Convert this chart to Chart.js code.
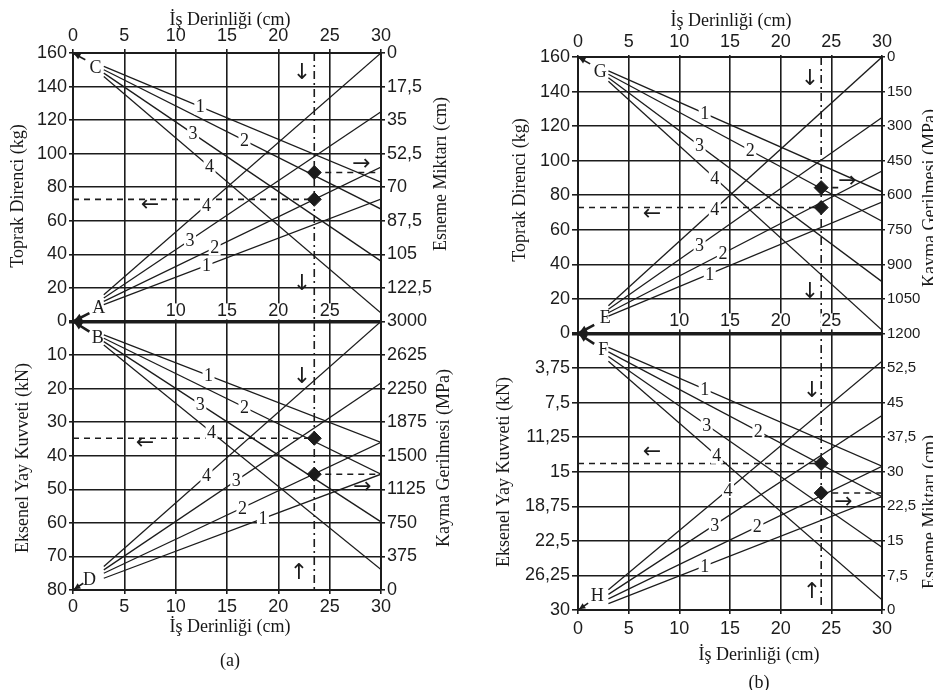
<!DOCTYPE html>
<html>
<head>
<meta charset="utf-8">
<script src="https://cdn.jsdelivr.net/npm/chart.js@4.4.1/dist/chart.umd.min.js"></script>
<style>
body{margin:0;background:#fff;width:933px;height:690px;position:relative;overflow:hidden;font-family:"Liberation Serif","DejaVu Serif",serif;color:#161616}
.panel{position:absolute;top:0;height:690px}
.t{position:absolute;white-space:nowrap;font-size:18px;transform:translate(-50%,-50%)}
.r{transform:translate(-50%,-50%) rotate(-90deg)}
</style>
</head>
<body>
<div class="panel" style="left:0;width:466px"><canvas id="chartA"></canvas></div>
<div class="panel" style="left:466px;width:467px"><canvas id="chartB"></canvas></div>

<div class="t" style="left:230px;top:19px">İş Derinliği (cm)</div>
<div class="t" style="left:230px;top:626px">İş Derinliği (cm)</div>
<div class="t" style="left:230px;top:660px">(a)</div>
<div class="t r" style="left:17px;top:196px">Toprak Direnci (kg)</div>
<div class="t r" style="left:22px;top:458px">Eksenel Yay Kuvveti (kN)</div>
<div class="t r" style="left:440px;top:174px">Esneme Miktarı (cm)</div>
<div class="t r" style="left:443px;top:458px">Kayma Gerilmesi (MPa)</div>

<div class="t" style="left:731px;top:20px">İş Derinliği (cm)</div>
<div class="t" style="left:759px;top:654px">İş Derinliği (cm)</div>
<div class="t" style="left:759px;top:682px">(b)</div>
<div class="t r" style="left:519px;top:190px">Toprak Direnci (kg)</div>
<div class="t r" style="left:503px;top:472px">Eksenel Yay Kuvveti (kN)</div>
<div class="t r" style="left:929px;top:198px">Kayma Gerilmesi (MPa)</div>
<div class="t r" style="left:929px;top:512px">Esneme Miktarı (cm)</div>

<script>
"use strict"

// depth axis, shared by both panels (cm)
const depthTicks = [0, 5, 10, 15, 20, 25, 30]
const midTicks = [10, 15, 20, 25]
const fanX = [3, 30]   // every numbered line runs from its letter (x=3) to the right edge

// ---------- panel (a) ----------
const aLeftLabels = ['160','140','120','100','80','60','40','20','0','10','20','30','40','50','60','70','80']
const aRightLabels = ['0','17,5','35','52,5','70','87,5','105','122,5','3000','2625','2250','1875','1500','1125','750','375','0']
// kg at x=3 and at x=30, lines 1..4
const aC = [[152, 83], [150, 67], [148, 36], [146, 5]]
const aA = [[10, 73], [12, 92], [14, 125], [16, 160]]
// kN at x=3 and at x=30, lines 1..4
const aB = [[4, 36], [5, 45.5], [6, 59.7], [7, 73.9]]
const aD = [[76.5, 45.5], [75, 36], [74, 18.3], [73, 0]]
const aDepth = 23.5
const aKgDots = [88.8, 72.8]
const aKnDots = [34.8, 45.5]

// ---------- panel (b) ----------
const bLeftLabels = ['160','140','120','100','80','60','40','20','0','3,75','7,5','11,25','15','18,75','22,5','26,25','30']
const bRightLabels = ['0','150','300','450','600','750','900','1050','1200','52,5','45','37,5','30','22,5','15','7,5','0']
const bG = [[152, 82], [150, 65], [148, 30], [146, 2]]
const bE = [[10, 76], [12, 94], [14, 125], [16, 160]]
const bF = [[1.5, 14.4], [2, 17.7], [2.5, 23.2], [3, 28.9]]
const bH = [[29.3, 17.7], [28.8, 14.4], [28.3, 8.9], [27.8, 3]]
const bDepth = 24
const bKgDots = [84.4, 72.9]
const bKnDots = [14.1, 17.3]

// upper half plots kg directly, lower half plots kN downwards
const kg = v => v
const aKn = v => -v * 2
const bKn = v => -v * 160 / 30

const ink = '#1c1c1c'
const tickFont = {family: '"Liberation Sans", Arial, sans-serif', size: 18}

function fanSets(pairs, toY){
    return pairs.map(p => ({
        data: [{x: fanX[0], y: toY(p[0])}, {x: fanX[1], y: toY(p[1])}],
        borderColor: ink, borderWidth: 1.3, pointRadius: 0, showLine: true
    }))
}

function dashed(points, pattern){
    return {data: points, borderColor: ink, borderWidth: 1.6, borderDash: pattern, pointRadius: 0, showLine: true}
}

function arrowTo(ctx, x1, y1, x2, y2, head){
    let ang = Math.atan2(y2 - y1, x2 - x1)
    ctx.beginPath(); ctx.moveTo(x1, y1); ctx.lineTo(x2, y2); ctx.stroke()
    ctx.beginPath()
    ctx.moveTo(x2, y2)
    ctx.lineTo(x2 - head * Math.cos(ang - 0.45), y2 - head * Math.sin(ang - 0.45))
    ctx.lineTo(x2 - head * Math.cos(ang + 0.45), y2 - head * Math.sin(ang + 0.45))
    ctx.closePath(); ctx.fill()
}

// numbers on the fan lines, letters, arrows and the inner depth labels
function notesPlugin(p){
    return {
        id: 'notes',
        afterDatasetsDraw(chart){
            const ctx = chart.ctx
            const x = chart.scales.x, y = chart.scales.y
            const px = v => x.getPixelForValue(v), py = v => y.getPixelForValue(v)
            ctx.save()
            ctx.textAlign = 'center'; ctx.textBaseline = 'middle'
            ctx.font = '18px "Liberation Serif", serif'
            p.groups.forEach(g => g.pairs.forEach((pair, i) => {
                let lx = g.labelX[i]
                let v = pair[0] + (pair[1] - pair[0]) * (lx - fanX[0]) / (fanX[1] - fanX[0])
                let X = px(lx), Y = py(g.toY(v))
                ctx.fillStyle = '#fff'; ctx.fillRect(X - 6, Y - 8, 12, 16)
                ctx.fillStyle = ink; ctx.fillText(String(i + 1), X, Y + 1)
            }))
            p.letters.forEach(l => {
                ctx.fillStyle = ink; ctx.fillText(l.t, px(l.x), py(l.y))
            })
            ctx.font = '18px "Liberation Sans", Arial, sans-serif'
            midTicks.forEach(v => {
                ctx.fillStyle = '#fff'; ctx.fillRect(px(v) - 11, py(p.midY) - 8, 22, 16)
                ctx.fillStyle = ink; ctx.fillText(String(v), px(v), py(p.midY))
            })
            ctx.font = '22px "DejaVu Sans", sans-serif'
            p.arrows.forEach(a => {
                ctx.fillStyle = ink; ctx.fillText(a.t, px(a.x), py(a.y))
            })
            ctx.strokeStyle = ink; ctx.fillStyle = ink
            ctx.lineWidth = 1.6
            p.corners.forEach(c => arrowTo(ctx, px(c[0]), py(c[1]), px(c[2]), py(c[3]), 7))
            ctx.lineWidth = 2.6
            arrowTo(ctx, px(1.6), py(5), px(0.1), py(0.3), 9)
            arrowTo(ctx, px(1.6), py(-6), px(0.1), py(-0.3), 9)
            ctx.restore()
        }
    }
}

function axisY(labels, position, width, tickLen, grid, font){
    return {
        type: 'linear', position: position, min: -160, max: 160,
        ticks: {
            stepSize: 20, color: ink, font: font, padding: 2,
            callback: v => labels[Math.round((160 - v) / 20)]
        },
        grid: grid ? {
            color: ink, tickLength: tickLen,
            lineWidth: c => (c.tick && c.tick.value === 0) ? 3.5 : 1.6
        } : {drawOnChartArea: false, color: ink, tickLength: tickLen, lineWidth: 1.6},
        border: {color: ink, width: 2},
        afterFit: s => { s.width = width }
    }
}

function axisX(position, height, tickLen, pad, grid){
    return {
        type: 'linear', position: position, min: 0, max: 30,
        afterBuildTicks: s => { s.ticks = depthTicks.map(v => ({value: v})) },
        ticks: {color: ink, font: tickFont, padding: pad, maxRotation: 0, autoSkip: false},
        grid: grid ? {color: ink, lineWidth: 1.6, tickLength: tickLen}
                   : {drawOnChartArea: false, color: ink, lineWidth: 1.6, tickLength: tickLen},
        border: {color: ink, width: 2},
        afterFit: s => { s.height = height }
    }
}

function drawPanel(id, p){
    const ctx = document.getElementById(id)
    let sets = []
    p.groups.forEach(g => { sets = sets.concat(fanSets(g.pairs, g.toY)) })
    sets.push(dashed([{x: p.depth, y: 160}, {x: p.depth, y: -160}], [8, 4, 2, 4]))
    sets.push(dashed([{x: 0, y: p.kgDots[1]}, {x: p.depth, y: p.kgDots[1]}], [6, 5]))
    sets.push(dashed([{x: p.depth, y: p.kgDots[0]}, {x: p.rightEnd, y: p.kgDots[0]}], [6, 5]))
    sets.push(dashed([{x: 0, y: p.knY(p.knDots[0])}, {x: p.depth, y: p.knY(p.knDots[0])}], [6, 5]))
    sets.push(dashed([{x: p.depth, y: p.knY(p.knDots[1])}, {x: 30, y: p.knY(p.knDots[1])}], [6, 5]))
    sets.push({
        data: p.kgDots.map(v => ({x: p.depth, y: v})).concat(p.knDots.map(v => ({x: p.depth, y: p.knY(v)}))),
        pointStyle: 'rectRot', pointRadius: 7, backgroundColor: ink, borderColor: ink, showLine: false
    })

    new Chart(ctx, {
        type: 'scatter',
        data: {datasets: sets},
        options: {
            responsive: true, maintainAspectRatio: false, animation: false,
            layout: {padding: 0},
            plugins: {legend: {display: false}, tooltip: {enabled: false}},
            scales: {
                x: axisX('bottom', p.bottomH, 4, p.bottomPad, true),
                x2: axisX('top', p.topH, p.topTick, 2, false),
                y: axisY(p.leftLabels, 'left', p.leftW, p.yTick, true, tickFont),
                y2: axisY(p.rightLabels, 'right', p.rightW, p.rightTick, false, p.rightFont)
            }
        },
        plugins: [notesPlugin(p)]
    })
}

drawPanel('chartA', {
    leftLabels: aLeftLabels, rightLabels: aRightLabels,
    leftW: 73, rightW: 85, topH: 53, bottomH: 100, topTick: 4, yTick: 4, rightTick: 4, bottomPad: 2,
    rightFont: tickFont,
    depth: aDepth, kgDots: aKgDots, knDots: aKnDots, knY: aKn, rightEnd: 30, midY: 6,
    groups: [
        {pairs: aC, toY: kg, labelX: [12.4, 16.7, 11.7, 13.3]},
        {pairs: aA, toY: kg, labelX: [13, 13.8, 11.4, 13]},
        {pairs: aB, toY: aKn, labelX: [13.2, 16.7, 12.4, 13.5]},
        {pairs: aD, toY: aKn, labelX: [18.5, 16.5, 15.9, 13]}
    ],
    letters: [{t: 'C', x: 2.2, y: 151}, {t: 'A', x: 2.5, y: 8}, {t: 'B', x: 2.4, y: -10}, {t: 'D', x: 1.6, y: -154}],
    arrows: [{t: '↓', x: 22.3, y: 148}, {t: '↓', x: 22.3, y: 22}, {t: '←', x: 7.5, y: 69}, {t: '→', x: 28.1, y: 93.5},
             {t: '↓', x: 22.3, y: -33}, {t: '←', x: 7, y: -72.7}, {t: '→', x: 28.2, y: -99}, {t: '↑', x: 22, y: -150}],
    corners: [[1.2, 156, 0.1, 159.6], [1, -156, 0.1, -159.6]]
})

drawPanel('chartB', {
    leftLabels: bLeftLabels, rightLabels: bRightLabels,
    leftW: 112, rightW: 51, topH: 57, bottomH: 80, topTick: 2, yTick: 6, rightTick: 3, bottomPad: 4,
    rightFont: {family: '"Liberation Sans", Arial, sans-serif', size: 15},
    depth: bDepth, kgDots: bKgDots, knDots: bKnDots, knY: bKn, rightEnd: 26, midY: 7,
    groups: [
        {pairs: bG, toY: kg, labelX: [12.5, 17, 12, 13.5]},
        {pairs: bE, toY: kg, labelX: [13, 14.3, 12, 13.5]},
        {pairs: bF, toY: bKn, labelX: [12.5, 17.8, 12.7, 13.7]},
        {pairs: bH, toY: bKn, labelX: [12.5, 17.7, 13.5, 14.8]}
    ],
    letters: [{t: 'G', x: 2.2, y: 151}, {t: 'E', x: 2.7, y: 8.6}, {t: 'F', x: 2.5, y: -9.8}, {t: 'H', x: 1.9, y: -152}],
    arrows: [{t: '↓', x: 22.9, y: 147}, {t: '↓', x: 22.9, y: 24}, {t: '←', x: 7.3, y: 69}, {t: '→', x: 26.6, y: 88},
             {t: '↓', x: 23.1, y: -33.7}, {t: '←', x: 7.3, y: -68.7}, {t: '→', x: 26.2, y: -97.7}, {t: '↑', x: 23.1, y: -150}],
    corners: [[1.2, 156, 0.1, 159.6], [1, -156, 0.1, -159.6]]
})
</script>
</body>
</html>
